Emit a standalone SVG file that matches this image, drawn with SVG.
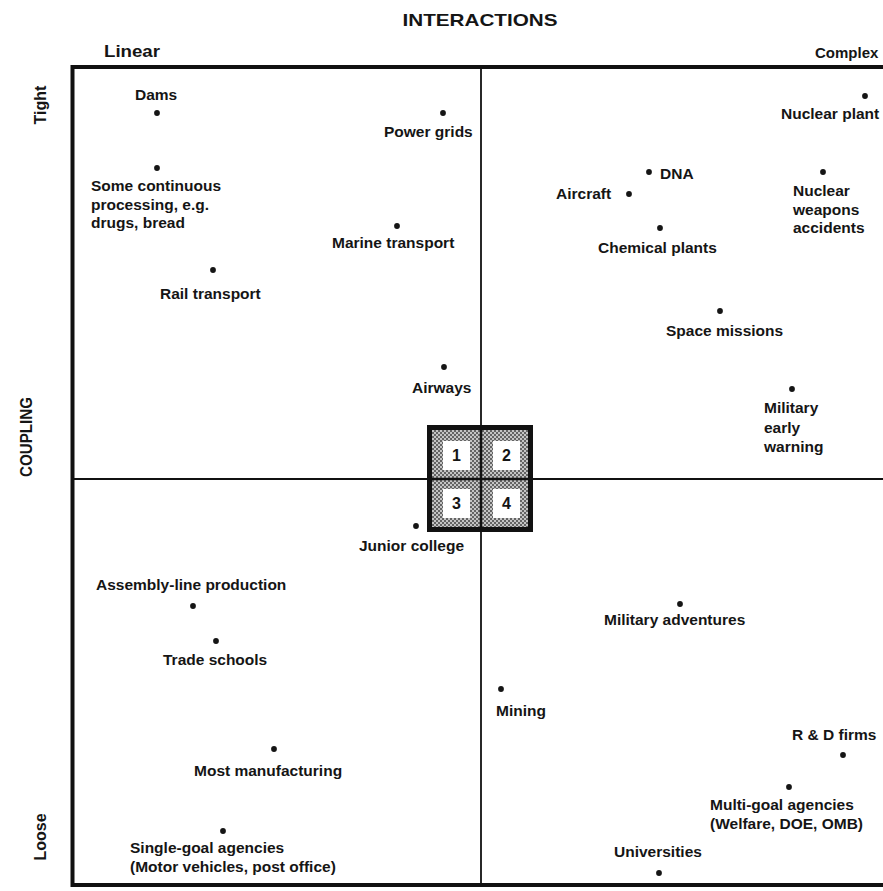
<svg xmlns="http://www.w3.org/2000/svg" width="883" height="891" viewBox="0 0 883 891">
  <defs>
    <style>
      text { font-family: "Liberation Sans", Arial, sans-serif; font-weight: bold; fill: #151515; }
      .lbl { font-size: 15.5px; }
      .axis { font-size: 16px; }
      .title { font-size: 17px; }
      .num { font-size: 16px; text-anchor: middle; }
      .dot { fill: #151515; }
      .frame { stroke: #111; fill: none; }
    </style>
    <pattern id="halftone" width="4" height="4" patternUnits="userSpaceOnUse">
      <rect width="4" height="4" fill="#c4c4c4"/>
      <circle cx="1" cy="1" r="1" fill="#444"/>
      <circle cx="3" cy="3" r="1" fill="#444"/>
    </pattern>
  </defs>

  <rect width="883" height="891" fill="#ffffff"/>

  <!-- axis titles -->
  <g id="axis-labels">
    <text class="title" x="480" y="26" text-anchor="middle" textLength="155" lengthAdjust="spacingAndGlyphs">INTERACTIONS</text>
    <text class="axis" x="104" y="57" textLength="56" lengthAdjust="spacingAndGlyphs">Linear</text>
    <text x="815" y="58" style="font-size:15px">Complex</text>
    <text class="title" transform="translate(32,437) rotate(-90)" text-anchor="middle" textLength="80" lengthAdjust="spacingAndGlyphs">COUPLING</text>
    <text class="axis" transform="translate(46,105) rotate(-90)" text-anchor="middle">Tight</text>
    <text class="axis" transform="translate(46,837) rotate(-90)" text-anchor="middle">Loose</text>
  </g>

  <!-- quadrant frame and dividing lines -->
  <g id="connectors">
    <path class="frame" d="M883,67 H72.5 V885 H883" stroke-width="4"/>
    <line class="frame" x1="481" y1="67" x2="481" y2="885" stroke-width="1.8"/>
    <line class="frame" x1="72" y1="479" x2="883" y2="479" stroke-width="1.8"/>
  </g>

  <!-- central key: four numbered quadrants -->
  <g id="quadrant-key">
    <rect x="429.5" y="427.5" width="101" height="102" fill="url(#halftone)" stroke="#111" stroke-width="5"/>
    <line x1="481" y1="427" x2="481" y2="530" stroke="#111" stroke-width="2.5"/>
    <line x1="429" y1="479" x2="531" y2="479" stroke="#111" stroke-width="2.5"/>
    <rect x="443" y="441" width="27" height="29" fill="#fff"/>
    <rect x="493" y="441" width="27" height="29" fill="#fff"/>
    <rect x="443" y="489" width="27" height="29" fill="#fff"/>
    <rect x="493" y="489" width="27" height="29" fill="#fff"/>
    <text class="num" x="456.5" y="461">1</text>
    <text class="num" x="506.5" y="461">2</text>
    <text class="num" x="456.5" y="509">3</text>
    <text class="num" x="506.5" y="509">4</text>
  </g>

  <!-- quadrant 1: linear, tight -->
  <g id="dams"><circle class="dot" cx="157" cy="113" r="2.9"/><text class="lbl" x="135" y="100">Dams</text></g>
  <g id="continuous-processing">
    <circle class="dot" cx="157" cy="168" r="2.9"/>
    <text class="lbl" x="91" y="191">Some continuous<tspan x="91" dy="18.5">processing, e.g.</tspan><tspan x="91" dy="18.5">drugs, bread</tspan></text>
  </g>
  <g id="rail-transport"><circle class="dot" cx="213" cy="270" r="2.9"/><text class="lbl" x="160" y="299">Rail transport</text></g>
  <g id="power-grids"><circle class="dot" cx="443" cy="113" r="2.9"/><text class="lbl" x="384" y="137">Power grids</text></g>
  <g id="marine-transport"><circle class="dot" cx="397" cy="226" r="2.9"/><text class="lbl" x="332" y="248">Marine transport</text></g>
  <g id="airways"><circle class="dot" cx="444" cy="367" r="2.9"/><text class="lbl" x="412" y="393">Airways</text></g>

  <!-- quadrant 2: complex, tight -->
  <g id="nuclear-plant"><circle class="dot" cx="865" cy="96" r="2.9"/><text class="lbl" x="781" y="119">Nuclear plant</text></g>
  <g id="dna"><circle class="dot" cx="649" cy="172" r="2.9"/><text class="lbl" x="660" y="179">DNA</text></g>
  <g id="aircraft"><circle class="dot" cx="629" cy="194" r="2.9"/><text class="lbl" x="556" y="199">Aircraft</text></g>
  <g id="chemical-plants"><circle class="dot" cx="660" cy="228" r="2.9"/><text class="lbl" x="598" y="253">Chemical plants</text></g>
  <g id="nuclear-weapons">
    <circle class="dot" cx="823" cy="172" r="2.9"/>
    <text class="lbl" x="793" y="196">Nuclear<tspan x="793" dy="18.5">weapons</tspan><tspan x="793" dy="18.5">accidents</tspan></text>
  </g>
  <g id="space-missions"><circle class="dot" cx="720" cy="311" r="2.9"/><text class="lbl" x="666" y="336">Space missions</text></g>
  <g id="military-early-warning">
    <circle class="dot" cx="792" cy="389" r="2.9"/>
    <text class="lbl" x="764" y="413">Military<tspan x="764" dy="19.5">early</tspan><tspan x="764" dy="19.5">warning</tspan></text>
  </g>

  <!-- quadrant 3: linear, loose -->
  <g id="junior-college"><circle class="dot" cx="416" cy="526" r="2.9"/><text class="lbl" x="359" y="551">Junior college</text></g>
  <g id="assembly-line"><circle class="dot" cx="193" cy="606" r="2.9"/><text class="lbl" x="96" y="590">Assembly-line production</text></g>
  <g id="trade-schools"><circle class="dot" cx="216" cy="641" r="2.9"/><text class="lbl" x="163" y="665">Trade schools</text></g>
  <g id="most-manufacturing"><circle class="dot" cx="274" cy="749" r="2.9"/><text class="lbl" x="194" y="776">Most manufacturing</text></g>
  <g id="single-goal-agencies">
    <circle class="dot" cx="223" cy="831" r="2.9"/>
    <text class="lbl" x="130" y="853">Single-goal agencies<tspan x="130" dy="18.5">(Motor vehicles, post office)</tspan></text>
  </g>

  <!-- quadrant 4: complex, loose -->
  <g id="military-adventures"><circle class="dot" cx="680" cy="604" r="2.9"/><text class="lbl" x="604" y="625">Military adventures</text></g>
  <g id="mining"><circle class="dot" cx="501" cy="689" r="2.9"/><text class="lbl" x="496" y="716">Mining</text></g>
  <g id="rd-firms"><circle class="dot" cx="843" cy="755" r="2.9"/><text class="lbl" x="792" y="740">R &amp; D firms</text></g>
  <g id="multi-goal-agencies">
    <circle class="dot" cx="789" cy="787" r="2.9"/>
    <text class="lbl" x="710" y="810">Multi-goal agencies<tspan x="710" dy="18.5">(Welfare, DOE, OMB)</tspan></text>
  </g>
  <g id="universities"><circle class="dot" cx="659" cy="873" r="2.9"/><text class="lbl" x="614" y="857">Universities</text></g>
</svg>
